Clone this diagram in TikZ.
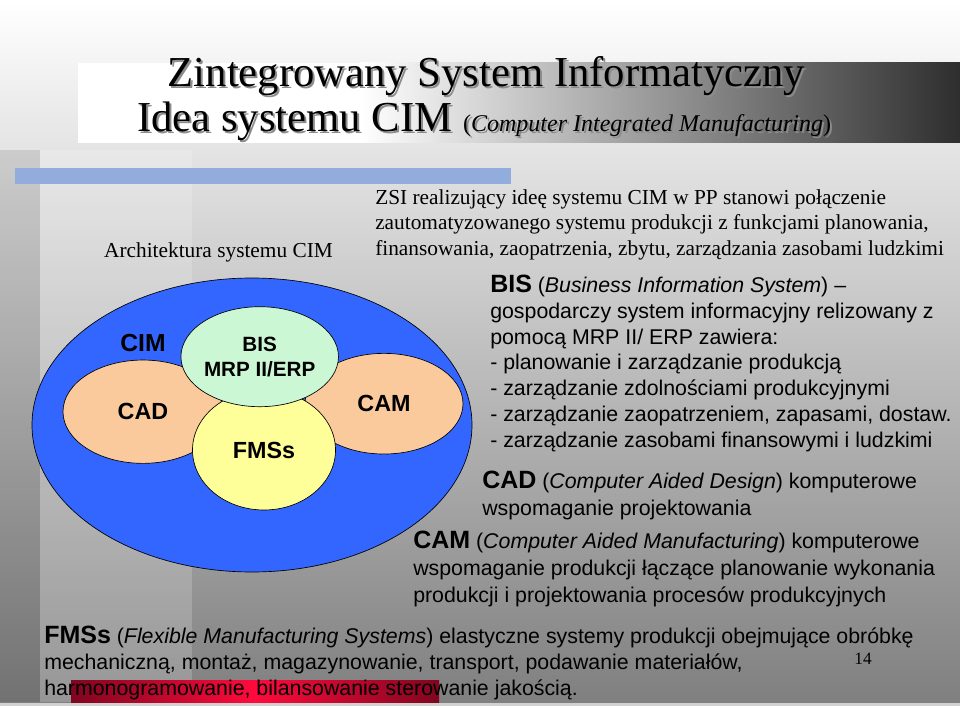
\documentclass[tikz,border=0pt]{standalone}
\usepackage{fontspec}
\setmainfont{Liberation Serif}
\newfontfamily\arialfont{Liberation Sans}
\usetikzlibrary{shapes.geometric}

\definecolor{cimblue}{HTML}{3366FF}
\definecolor{peach}{HTML}{FBCA9C}
\definecolor{mint}{HTML}{CCF7D4}
\definecolor{lemon}{HTML}{FFFF99}
\definecolor{barblue}{HTML}{92ACDC}
\definecolor{barred}{HTML}{FF0A3C}
\definecolor{darkred}{HTML}{80061F}

\newcommand{\bighead}[1]{{\fontsize{18.75}{20}\selectfont\bfseries #1}}

\begin{document}
\begin{tikzpicture}
			[
				x=0.75pt, y=-0.75pt,
				oval/.style={ellipse, draw=black, line width=0.5pt, inner sep=0pt, align=center,
					font=\arialfont\bfseries\fontsize{17.5}{18.75}\selectfont},
				title/.style={anchor=base, inner sep=0pt, font=\fontsize{32}{36}\selectfont},
				shadow/.style={title, text=black!45},
				times/.style={anchor=base west, align=left, inner sep=0pt, font=\fontsize{16}{19.1}\selectfont},
				body/.style={anchor=base west, align=left, inner sep=0pt, font=\arialfont\fontsize{16}{20.25}\selectfont}
			]

			% slide background
			\useasboundingbox (0,0) rectangle (960,706);
			\fill[black!18] (0,0) rectangle (960,706);
			\shade[top color=white, bottom color=black!50] (0,0) rectangle (960,702);
			\fill[black, opacity=0.1] (0,150) rectangle (40,702);
			\fill[white, opacity=0.18] (40,150) rectangle (192,702);

			% title bar
			\fill[white] (78,63) rectangle (360,143);
			\shade[left color=white, right color=black!82] (360,63) rectangle (960,143);
			\fill[barblue] (15,168) rectangle (511,184);
			\shade[left color=darkred, right color=darkred, middle color=barred] (71,680) rectangle (439,702);

			% titles
			\node[shadow] at (488.5,89) {Zintegrowany System Informatyczny};
			\node[title] (title) at (486.5,87) {Zintegrowany System Informatyczny};
			\node[shadow, anchor=base west] at (139,134) {Idea systemu CIM {\fontsize{18}{20}\selectfont(\textit{Computer Integrated Manufacturing})}};
			\node[title, anchor=base west] (subtitle) at (137,132) {Idea systemu CIM {\fontsize{18}{20}\selectfont(\textit{Computer Integrated Manufacturing})}};

			% architecture
			\node[times, anchor=base] (arch) at (218.5,257) {Architektura systemu CIM};
			\node[oval, fill=cimblue, minimum width=330pt, minimum height=220.5pt] (cim) at (252,425) {};
			\node[oval, fill=peach, minimum width=120pt, minimum height=77.5pt] (cad) at (143,411.7) {CAD};
			\node[oval, fill=peach, minimum width=118.5pt, minimum height=75.5pt] (cam) at (384,403.7) {CAM};
			\node[oval, fill=lemon, minimum width=107.25pt, minimum height=90pt] (fms) at (264,450) {FMSs};
			\node[oval, fill=mint, minimum width=113pt, minimum height=75pt,
				font=\arialfont\bfseries\fontsize{15.5}{18.75}\selectfont] (bis) at (259.7,356.7) {BIS\\MRP II/ERP};
			\node[inner sep=0pt, font=\arialfont\bfseries\fontsize{18.5}{20}\selectfont] (cimlabel) at (143,343) {CIM};

			% descriptions (anchored at the last line)
			\node[times] (zsi) at (375,255) {ZSI realizujący ideę systemu CIM w PP stanowi połączenie\\
				zautomatyzowanego systemu produkcji z funkcjami planowania,\\
				finansowania, zaopatrzenia, zbytu, zarządzania zasobami ludzkimi};

			\node[body, font=\arialfont\fontsize{16}{19.3}\selectfont] (bistext) at (490,447) {\bighead{BIS} (\textit{Business Information System}) –\\
				gospodarczy system informacyjny relizowany z\\
				pomocą MRP II/ ERP zawiera:\\
				- planowanie i zarządzanie produkcją\\
				- zarządzanie zdolnościami produkcyjnymi\\
				- zarządzanie zaopatrzeniem, zapasami, dostaw.\\
				- zarządzanie zasobami finansowymi i ludzkimi};

			\node[body] (cadtext) at (482,515) {\bighead{CAD} (\textit{Computer Aided Design}) komputerowe\\
				wspomaganie projektowania};

			\node[body] (camtext) at (413,602) {\bighead{CAM} (\textit{Computer Aided Manufacturing}) komputerowe\\
				wspomaganie produkcji łączące planowanie wykonania\\
				produkcji i projektowania procesów produkcyjnych};

			\node[body, font=\arialfont\fontsize{16}{19.5}\selectfont] (fmstext) at (44,695) {\bighead{FMSs} (\textit{Flexible Manufacturing Systems}) elastyczne systemy produkcji obejmujące obróbkę\\
				mechaniczną, montaż, magazynowanie, transport, podawanie materiałów,\\
				harmonogramowanie, bilansowanie sterowanie jakością.};

			\node[anchor=base, inner sep=0pt, font=\fontsize{13}{14}\selectfont] (page) at (863,664) {14};

		\end{tikzpicture}
\end{document}
